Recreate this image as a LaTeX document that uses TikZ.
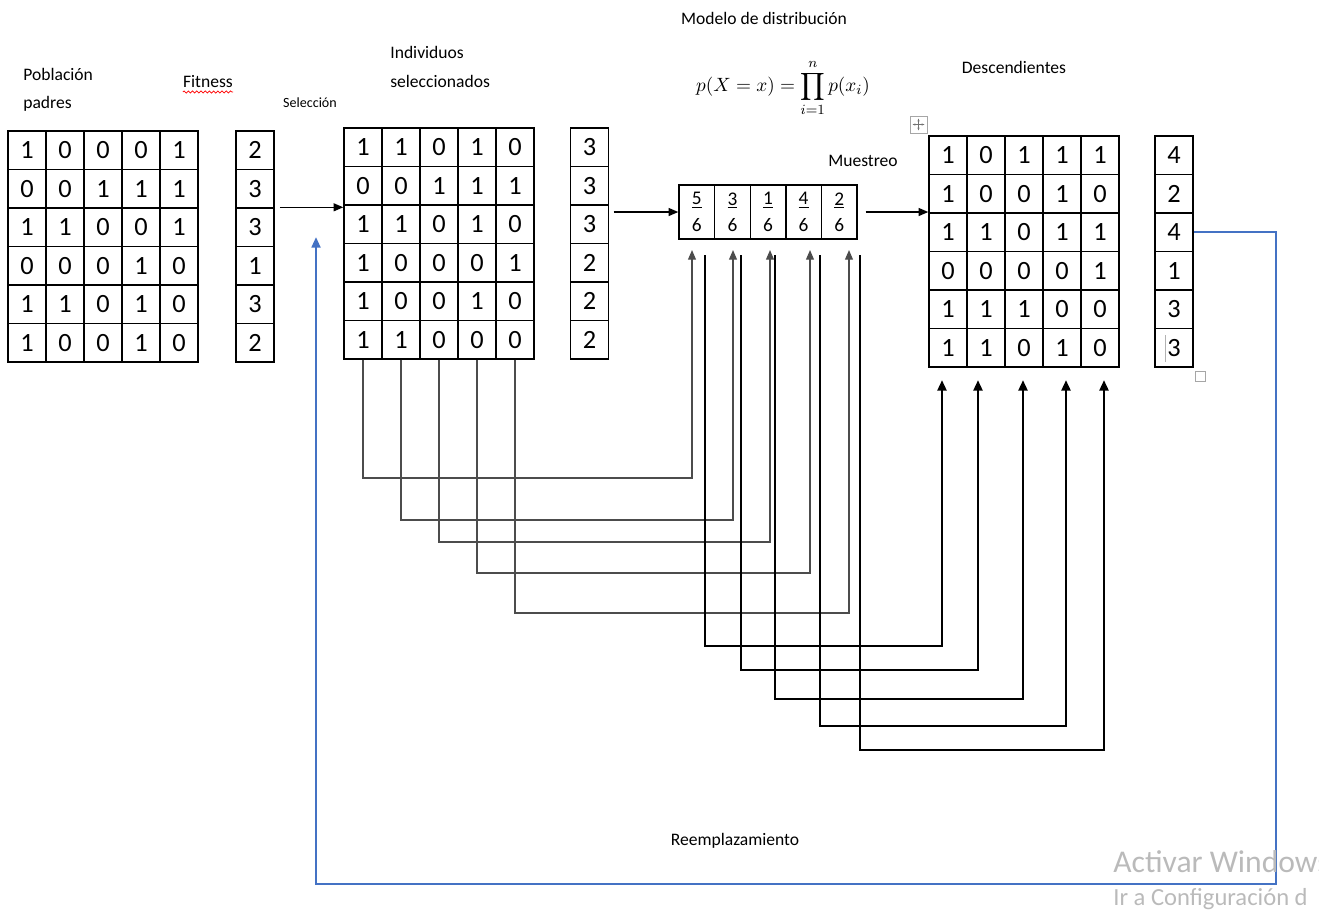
\documentclass[tikz,border=0pt]{standalone}
\usepackage{amsmath}
\usepackage{fontspec}
\setmainfont{Carlito}
\usetikzlibrary{positioning,calc,arrows.meta,decorations.pathmorphing}

\definecolor{wordblue}{HTML}{4472C4}

\tikzset{
    cell/.style={draw, line width=0.8pt, minimum width=0.76cm, minimum height=0.77cm, inner sep=0pt, font=\fontsize{15}{18}\selectfont},
    probcell/.style={draw, line width=0.8pt, minimum width=0.712cm, minimum height=1.08cm, inner sep=0pt, align=center, font=\fontsize{11}{15}\selectfont},
    heading/.style={inner sep=0pt, align=left, font=\fontsize{10}{16}\selectfont},
    flow/.style={-{Triangle[length=5.5pt,width=4.5pt]}, line width=0.8pt},
    feed/.style={-{Triangle[length=5.5pt,width=4.5pt]}, draw=black!70, line width=0.7pt},
    sampling/.style={-{Triangle[length=6pt,width=5pt]}, line width=1.5pt},
    backloop/.style={-{Triangle[length=6pt,width=5pt]}, draw=wordblue, line width=1.3pt},
    winmark/.style={anchor=west, inner sep=0pt, text=black!27}
}

\begin{document}
\begin{tikzpicture}[x=0.02cm, y=-0.02cm]
    \useasboundingbox (0,0) rectangle (1319,914);

    % Titles
    \node[heading, anchor=west] (padres) at (23,90) {Población\\padres};
    \node[heading] (fit) at (208,82) {Fitness};
    \draw[red, line width=0.4pt, decorate, decoration={snake, amplitude=0.6pt, segment length=2.4pt}]
        ([yshift=-2pt]fit.south west) -- ([yshift=-2pt]fit.south east);
    \node[inner sep=0pt, font=\fontsize{8}{10}\selectfont] (sel) at (310,103) {Selección};
    \node[heading, anchor=west] (indiv) at (390,67) {Individuos\\seleccionados};
    \node[heading] (modelo) at (764,18) {Modelo de distribución};
    \node[inner sep=0pt, font=\fontsize{11}{13}\selectfont] (formula) at (783,88) {$\displaystyle p(X=x)=\prod_{i=1}^{n} p(x_i)$};
    \node[heading] (desc) at (1014,67) {Descendientes};
    \node[heading] (muestreo) at (863,161) {Muestreo};
    \node[heading] (reemp) at (735,841) {Reemplazamiento};

    % Parent population
    \foreach \row [count=\r] in {{1,0,0,0,1},{0,0,1,1,1},{1,1,0,0,1},{0,0,0,1,0},{1,1,0,1,0},{1,0,0,1,0}} {
        \foreach \bit [count=\c] in \row {
            \node[cell] (p-\r-\c) at ({27+38*(\c-1)}, {150.25+38.5*(\r-1)}) {\bit};
        }
    }
    \foreach \v [count=\r] in {2,3,3,1,3,2}
        \node[cell] (f1-\r) at (255, {150.25+38.5*(\r-1)}) {\v};

    % Selected individuals
    \foreach \row [count=\r] in {{1,1,0,1,0},{0,0,1,1,1},{1,1,0,1,0},{1,0,0,0,1},{1,0,0,1,0},{1,1,0,0,0}} {
        \foreach \bit [count=\c] in \row {
            \node[cell] (s-\r-\c) at ({363+38*(\c-1)}, {147.25+38.5*(\r-1)}) {\bit};
        }
    }
    \foreach \v [count=\r] in {3,3,3,2,2,2}
        \node[cell] (f2-\r) at (589.5, {147.25+38.5*(\r-1)}) {\v};

    % Probability vector
    \foreach \n [count=\c] in {5,3,1,4,2}
        \node[probcell] (q-\c) at ({696.8+35.6*(\c-1)}, 212) {\underline{\n}\\6};

    % Offspring
    \foreach \row [count=\r] in {{1,0,1,1,1},{1,0,0,1,0},{1,1,0,1,1},{0,0,0,0,1},{1,1,1,0,0},{1,1,0,1,0}} {
        \foreach \bit [count=\c] in \row {
            \node[cell] (d-\r-\c) at ({948+38*(\c-1)}, {155.25+38.5*(\r-1)}) {\bit};
        }
    }
    \foreach \v [count=\r] in {4,2,4,1,3,3}
        \node[cell] (f3-\r) at (1174, {155.25+38.5*(\r-1)}) {\v};

    % Main arrows
    \draw[flow] ([xshift=3pt]f1-3.north east) -- (f1-3.north east -| s-3-1.west);
    \draw[flow] ([xshift=2.5pt]f2-3.east |- q-1.west) -- (q-1.west);
    \draw[flow] ([xshift=4.5pt]q-5.east) -- (q-5.east -| d-1-1.west);

    % Columns into the model
    \foreach \c/\xa/\ya in {1/692/478, 2/733/520, 3/770/542, 4/810/573, 5/849/613} {
        \coordinate (in-\c) at (\xa,250);
        \draw[feed] (s-6-\c.south) |- (\xa,\ya) -- (in-\c);
    }

    % Sampling into the offspring
    \foreach \c/\xb/\yb/\xc in {1/705/646/942, 2/741/670/978, 3/775/699/1023, 4/820/726/1066, 5/860/750/1104} {
        \coordinate (out-\c) at (\xb,255);
        \coordinate (to-\c) at (\xc,380);
        \draw[sampling] (out-\c) -- (\xb,\yb) -| (to-\c);
    }

    % Replacement loop
    \coordinate (back) at (316,237);
    \draw[backloop] (f3-3.east) -| (1276,884) -| (back);

    % Table handles
    \draw[black!35, line width=0.5pt] (910,116) rectangle (927,133);
    \draw[black!55, line width=0.4pt, {Stealth[length=1.6pt]}-{Stealth[length=1.6pt]}] (912.5,124.5) -- (924.5,124.5);
    \draw[black!55, line width=0.4pt, {Stealth[length=1.6pt]}-{Stealth[length=1.6pt]}] (918.5,118.5) -- (918.5,130.5);
    \draw[black!35, line width=0.5pt] (1195,371) rectangle (1205,381);
    \draw[black!30, line width=0.4pt] (1165,335) -- (1165,362);

    % Activation notice
    \node[winmark, font=\fontsize{18}{20}\selectfont] (act) at (1113,862) {Activar Windows};
    \node[winmark, font=\fontsize{14}{16}\selectfont] (conf) at (1113,899) {Ir a Configuración d};
\end{tikzpicture}
\end{document}
